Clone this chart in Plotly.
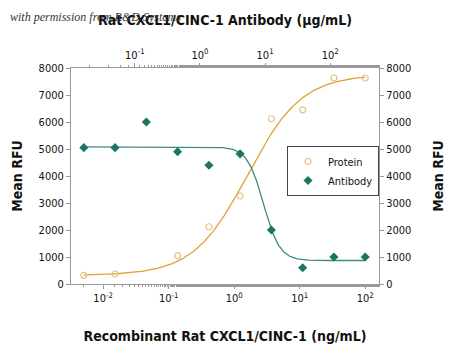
import numpy as np
import plotly.graph_objects as go

# Data
conc_antibody = [0.00508, 0.0152, 0.0457, 0.137, 0.412, 1.23, 3.70, 11.1, 33.3, 100]
rfu_antibody = [5050, 5050, 6000, 4900, 4400, 4820, 2000, 600, 1000, 1000]
conc_protein = [0.00508, 0.0152, 0.137, 0.412, 1.23, 3.70, 11.1, 33.3, 100]
rfu_protein = [320, 370, 1050, 2120, 3260, 6120, 6450, 7630, 7630]

# 4PL fit parameters [bottom, top, ec50, hill]
fit_protein = [320, 7760, 1.6, 1.05]
fit_antibody = [870, 5080, 2.8, 3.5]

ytick_vals = [0, 1000, 2000, 3000, 4000, 5000, 6000, 7000, 8000]
xtick_vals = [0.01, 0.1, 1, 10, 100]
xtick_text = ["10<sup>-2</sup>", "10<sup>-1</sup>", "10<sup>0</sup>", "10<sup>1</sup>", "10<sup>2</sup>"]
x2tick_vals = [0.1, 1, 10, 100]
x2tick_text = ["10<sup>-1</sup>", "10<sup>0</sup>", "10<sup>1</sup>", "10<sup>2</sup>"]

ORANGE = "#dfa236"
ORANGE_LIGHT = "#e8bf80"
TEAL = "#1a7565"
TEAL_LINE = "#3d8c7e"
FONT = "DejaVu Sans Condensed, Roboto, sans-serif"


def four_pl(x, p):
    b, t, c, h = p
    x = np.asarray(x)
    return b + (t - b) / (1 + (c / x) ** h)


xs = np.logspace(np.log10(conc_antibody[0]), np.log10(conc_antibody[-1]), 300)
xs_p = np.logspace(np.log10(conc_protein[0]), np.log10(conc_protein[-1]), 300)

fig = go.Figure()
fig.add_trace(go.Scatter(x=xs_p, y=four_pl(xs_p, fit_protein), mode="lines",
                         line=dict(color=ORANGE, width=1.3), showlegend=False, hoverinfo="skip"))
fig.add_trace(go.Scatter(x=xs, y=four_pl(xs, [fit_antibody[1], fit_antibody[0], fit_antibody[2], fit_antibody[3]]),
                         mode="lines", line=dict(color=TEAL_LINE, width=1.3), showlegend=False, hoverinfo="skip"))
fig.add_trace(go.Scatter(x=conc_protein, y=rfu_protein, mode="markers", name="Protein",
                         marker=dict(symbol="circle-open", size=6, color=ORANGE_LIGHT, line=dict(width=1.2))))
fig.add_trace(go.Scatter(x=conc_antibody, y=rfu_antibody, mode="markers", name="Antibody",
                         marker=dict(symbol="diamond", size=7, color=TEAL)))
# dummy trace on top axis
fig.add_trace(go.Scatter(x=[1], y=[None], xaxis="x2", yaxis="y2", showlegend=False, hoverinfo="skip"))

axis_common = dict(showgrid=False, zeroline=False, showline=True, linecolor="#999999", linewidth=1,
                   ticks="outside", tickcolor="#999999", ticklen=4, automargin=False,
                   tickfont=dict(family=FONT, size=11, color="#111111"))
title_font = dict(family=FONT, size=14, color="#111111")

fig.update_layout(
    width=450, height=349,
    margin=dict(l=71, r=71, t=68, b=65),
    paper_bgcolor="white", plot_bgcolor="white",
    xaxis=dict(type="log", range=[-2.49, 2.21], tickvals=xtick_vals, ticktext=xtick_text,
               minor=dict(ticks="outside", ticklen=2, tickcolor="#999999"),
               title=dict(text="<b>Recombinant Rat CXCL1/CINC-1 (ng/mL)</b>", font=title_font, standoff=26),
               **axis_common),
    xaxis2=dict(type="log", range=[-1.98, 2.75], overlaying="x", side="top", anchor="y",
                tickvals=x2tick_vals, ticktext=x2tick_text,
                minor=dict(ticks="outside", ticklen=2, tickcolor="#999999"),
                title=dict(text="<b>Rat CXCL1/CINC-1 Antibody (μg/mL)</b>", font=title_font, standoff=18),
                **axis_common),
    yaxis=dict(range=[0, 8000], tickvals=ytick_vals,
               title=dict(text="<b>Mean RFU</b>", font=title_font, standoff=12),
               **axis_common),
    yaxis2=dict(range=[0, 8000], tickvals=ytick_vals, overlaying="y", side="right", anchor="x",
                title=dict(text="<b>Mean RFU</b>", font=title_font, standoff=22),
                **axis_common),
    legend=dict(x=(287 - 71) / 308, y=1 - (146 - 68) / 216, xanchor="left", yanchor="top",
                bordercolor="#444444", borderwidth=1, bgcolor="white",
                font=dict(family=FONT, size=11, color="#111111"),
                itemwidth=30, tracegroupgap=0),
    showlegend=True,
)

fig.add_annotation(text="<i>with permission from R&D Systems</i>", xref="paper", yref="paper",
                   x=(8 - 71) / 308, y=1 + (68 - 17) / 216, xanchor="left", yanchor="middle",
                   showarrow=False, font=dict(family="Liberation Serif", size=12, color="#333333"))

fig.write_html("out.html")
